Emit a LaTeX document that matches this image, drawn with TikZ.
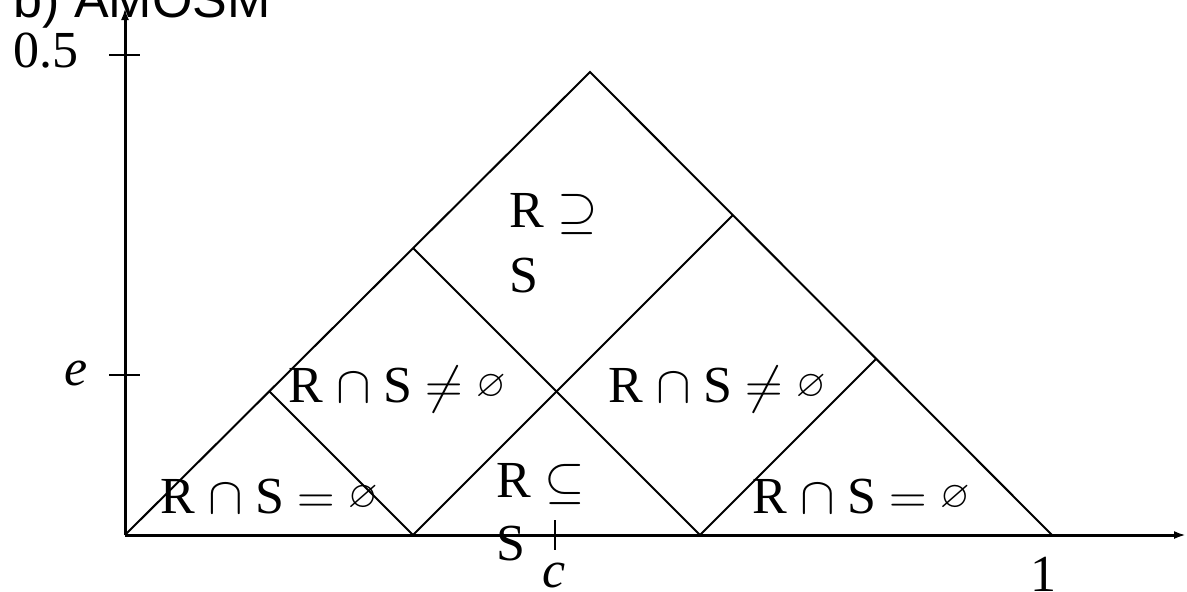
\documentclass[tikz,border=0pt]{standalone}
\usepackage{fix-cm}
\usepackage{amssymb}
\usepackage{fontspec}
\setmainfont{Liberation Serif}
\newfontfamily\headfont{Liberation Sans}
\usetikzlibrary{arrows.meta,positioning}
\newcommand{\smallnull}{\raisebox{3pt}{\fontsize{19}{19}\selectfont$\varnothing$}}
\tikzset{
  axis/.style={line width=1.5pt, -{Latex[length=6pt,width=4pt]}},
  tickmark/.style={line width=1pt},
  edge/.style={line width=1pt},
  region/.style={inner sep=0pt, anchor=base west, font=\fontsize{26}{32}\selectfont},
}
\begin{document}
\begin{tikzpicture}[x=0.5pt,y=-0.5pt]
    \useasboundingbox (0,0) rectangle (1187,591);
    % heading, cut by the top edge
    \node[region, font=\headfont\fontsize{26}{32}\selectfont] (head) at (13,17) {b) AMOSM};
    % axes
    \coordinate (O) at (125,535);
    \coordinate (ytip) at (125,8);
    \coordinate (xtip) at (1186,535);
    \draw[axis] (O) -- (ytip);
    \draw[axis] (O) -- (xtip);
    % ticks
    \coordinate (thalf) at (125,55);
    \coordinate (te) at (125,375);
    \coordinate (tc) at (555,535);
    \draw[tickmark] ([xshift=-8pt]thalf) -- ([xshift=7.5pt]thalf);
    \draw[tickmark] ([xshift=-8pt]te) -- ([xshift=7.5pt]te);
    \draw[tickmark] ([yshift=7.5pt]tc) -- ([yshift=-7.5pt]tc);
    \node[region] (lhalf) at (13,67) {0.5};
    \node[region] (le) at (64,385) {\itshape e};
    \node[region] (lc) at (542,587) {\itshape c};
    \node[region] (lone) at (1030,591) {1};
    % triangle
    \coordinate (apex) at (590,72);
    \coordinate (right) at (1052,535);
    \coordinate (b1) at (413,535);
    \coordinate (b2) at (700,535);
    \coordinate (l1) at (269,391);
    \coordinate (l2) at (413,248);
    \coordinate (r1) at (733,215);
    \coordinate (r2) at (876,359);
    \draw[edge] (O) -- (apex) -- (right);
    \draw[edge] (l1) -- (b1) -- (r1);
    \draw[edge] (l2) -- (b2) -- (r2);
    % region labels
    \node[region] (supR) at (509,227) {R $\supseteq$};
    \node[region] (supS) at (509,292) {S};
    \node[region] (meetL) at (288,402) {R $\cap$ S $\neq$ \smallnull};
    \node[region] (meetR) at (608,402) {R $\cap$ S $\neq$ \smallnull};
    \node[region] (nullL) at (160,513) {R $\cap$ S $=$ \smallnull};
    \node[region] (nullR) at (752,513) {R $\cap$ S $=$ \smallnull};
    \node[region] (subR) at (496,497) {R $\subseteq$};
    \node[region] (subS) at (496,560) {S};
\end{tikzpicture}
\end{document}
